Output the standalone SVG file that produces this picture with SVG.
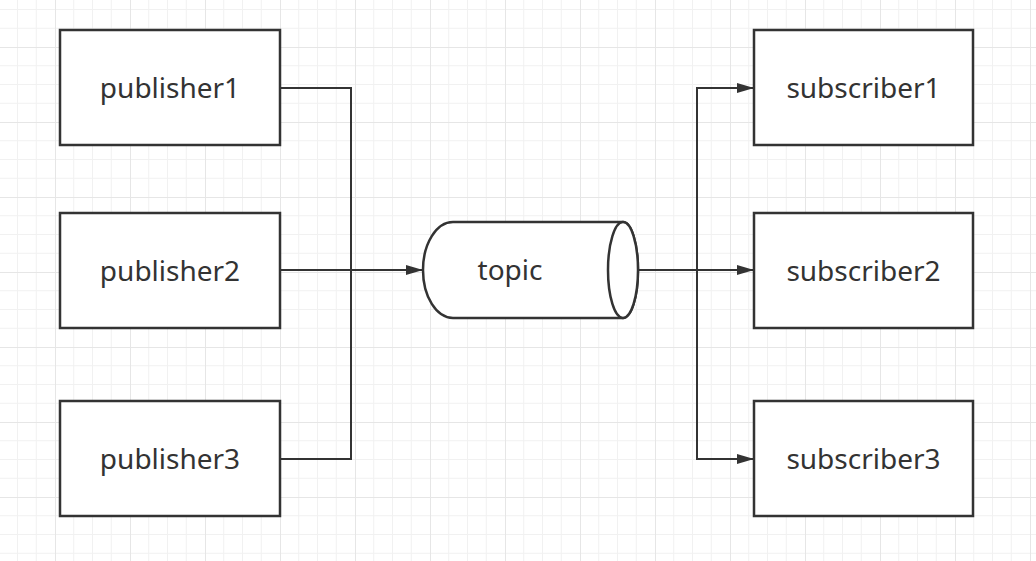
<svg xmlns="http://www.w3.org/2000/svg" width="1036" height="561" viewBox="0 0 1036 561">
<style>
.box{fill:#fff;stroke:#333;stroke-width:2.5}
.lbl{font-family:"Noto Sans","Open Sans","DejaVu Sans",sans-serif;font-size:28px;fill:#333;text-anchor:middle}
.con{fill:none;stroke:#333;stroke-width:2}
.minor{stroke:#f1f1f1;stroke-width:1}
.major{stroke:#e6e6e6;stroke-width:1}
</style>
<defs>
<pattern id="grid" patternUnits="userSpaceOnUse" x="55" y="47" width="75" height="75">
<path class="minor" d="M18.75 0V75M37.5 0V75M56.25 0V75M0 18.75H75M0 37.5H75M0 56.25H75"/>
<path class="major" d="M0.5 0V75M0 0.5H75"/>
</pattern>
<marker id="arr" markerUnits="userSpaceOnUse" markerWidth="18" markerHeight="11" refX="17" refY="5" orient="auto">
<path d="M0,0 L17,5 L0,10 z" fill="#333"/>
</marker>
</defs>
<rect width="1036" height="561" fill="#fff"/>
<rect width="1036" height="561" fill="url(#grid)"/>
<g id="connectors">
<path class="con" d="M280 88H351V459H280"/>
<path class="con" d="M280 270H423" marker-end="url(#arr)"/>
<path class="con" d="M638 270H754" marker-end="url(#arr)"/>
<path class="con" d="M697 270V88H754" marker-end="url(#arr)"/>
<path class="con" d="M697 270V459H754" marker-end="url(#arr)"/>
</g>
<g id="publisher1"><rect class="box" x="60" y="30" width="220" height="115"/><text class="lbl" x="170" y="98">publisher1</text></g>
<g id="publisher2"><rect class="box" x="60" y="213" width="220" height="115"/><text class="lbl" x="170" y="281">publisher2</text></g>
<g id="publisher3"><rect class="box" x="60" y="401" width="220" height="115"/><text class="lbl" x="170" y="469">publisher3</text></g>
<g id="topic">
<path d="M453 222H623A15 48 0 0 1 623 318H453A30 48 0 0 1 453 222Z" fill="#fff" stroke="#333" stroke-width="2.5"/>
<ellipse cx="623" cy="270" rx="15" ry="48" fill="#fff" stroke="#333" stroke-width="2.5"/>
<text class="lbl" x="510" y="280">topic</text>
</g>
<g id="subscriber1"><rect class="box" x="754" y="30" width="219" height="115"/><text class="lbl" x="863.5" y="98">subscriber1</text></g>
<g id="subscriber2"><rect class="box" x="754" y="213" width="219" height="115"/><text class="lbl" x="863.5" y="281">subscriber2</text></g>
<g id="subscriber3"><rect class="box" x="754" y="401" width="219" height="115"/><text class="lbl" x="863.5" y="469">subscriber3</text></g>
</svg>
